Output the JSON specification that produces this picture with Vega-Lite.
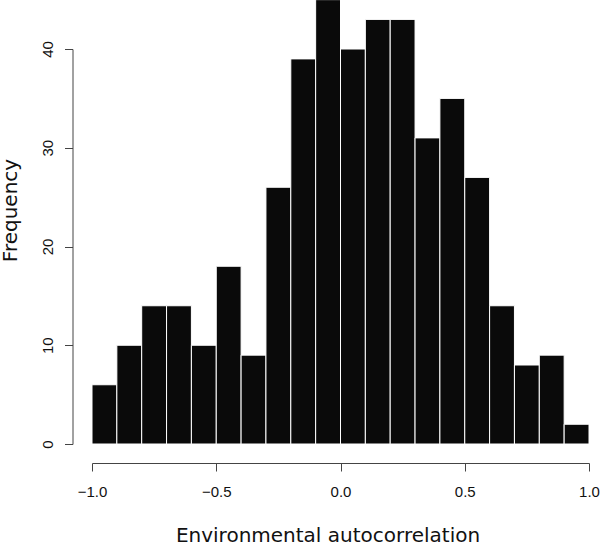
{
  "$schema": "https://vega.github.io/schema/vega-lite/v6.json",
  "autosize": "none",
  "width": 497,
  "height": 395,
  "padding": {"left": 92, "top": 49, "right": 11, "bottom": 101},
  "background": "white",
  "config": {"view": {"stroke": null}, "font": "DejaVu Sans"},
  "data": {"values": [
    {"start": -1.0, "end": -0.9, "count": 6},
    {"start": -0.9, "end": -0.8, "count": 10},
    {"start": -0.8, "end": -0.7, "count": 14},
    {"start": -0.7, "end": -0.6, "count": 14},
    {"start": -0.6, "end": -0.5, "count": 10},
    {"start": -0.5, "end": -0.4, "count": 18},
    {"start": -0.4, "end": -0.3, "count": 9},
    {"start": -0.3, "end": -0.2, "count": 26},
    {"start": -0.2, "end": -0.1, "count": 39},
    {"start": -0.1, "end": 0.0, "count": 45},
    {"start": 0.0, "end": 0.1, "count": 40},
    {"start": 0.1, "end": 0.2, "count": 43},
    {"start": 0.2, "end": 0.3, "count": 43},
    {"start": 0.3, "end": 0.4, "count": 31},
    {"start": 0.4, "end": 0.5, "count": 35},
    {"start": 0.5, "end": 0.6, "count": 27},
    {"start": 0.6, "end": 0.7, "count": 14},
    {"start": 0.7, "end": 0.8, "count": 8},
    {"start": 0.8, "end": 0.9, "count": 9},
    {"start": 0.9, "end": 1.0, "count": 2}
  ]},
  "mark": {"type": "rect", "fill": "#0a0a0a", "stroke": "white", "strokeWidth": 1, "clip": false},
  "encoding": {
    "x": {
      "field": "start", "type": "quantitative",
      "scale": {"domain": [-1, 1], "nice": false, "zero": false},
      "axis": {
        "title": "Environmental autocorrelation",
        "values": [-1, -0.5, 0, 0.5, 1],
        "format": ".1f",
        "offset": 19,
        "grid": false,
        "domainColor": "#444", "tickColor": "#444", "tickSize": 8,
        "labelFont": "Liberation Sans", "labelFontSize": 15, "labelColor": "#111",
        "labelBaseline": "alphabetic", "labelPadding": 25,
        "labelFlush": false,
        "titleFontSize": 20, "titleFontWeight": "normal", "titleColor": "#111",
        "titleAlign": "center", "titleAnchor": null,
        "titleBaseline": "alphabetic", "titleX": 235.5, "titleY": 78.5
      }
    },
    "x2": {"field": "end"},
    "y": {
      "field": "count", "type": "quantitative",
      "scale": {"domain": [0, 40], "nice": false},
      "axis": {
        "title": "Frequency",
        "values": [0, 10, 20, 30, 40],
        "offset": 19.5,
        "grid": false,
        "domainColor": "#444", "tickColor": "#444", "tickSize": 8,
        "labelFont": "Liberation Sans", "labelFontSize": 15, "labelColor": "#111",
        "labelAngle": -90, "labelAlign": "center", "labelBaseline": "alphabetic",
        "labelPadding": 12.5,
        "labelFlush": false,
        "titleFontSize": 20, "titleFontWeight": "normal", "titleColor": "#111",
        "titleAngle": -90, "titleAlign": "center", "titleBaseline": "alphabetic",
        "titleX": -56.5, "titleY": 161
      }
    },
    "y2": {"datum": 0}
  }
}
